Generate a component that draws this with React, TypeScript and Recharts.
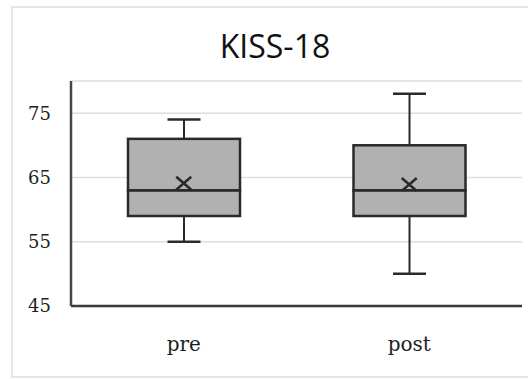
import React from "react";
import { ComposedChart, Bar, Line, XAxis, YAxis, CartesianGrid } from "recharts";

const categories = ["pre", "post"];
const minValues = [55, 50];
const q1Values = [59, 59];
const medianValues = [63, 63];
const q3Values = [71, 70];
const maxValues = [74, 78];
const meanValues = [64.1, 63.9];
const yTicks = [45, 55, 65, 75];

const data = categories.map((name, i) => ({
  name,
  base: minValues[i],
  lowWhisker: q1Values[i] - minValues[i],
  lowBox: medianValues[i] - q1Values[i],
  highBox: q3Values[i] - medianValues[i],
  highWhisker: maxValues[i] - q3Values[i],
  mean: meanValues[i],
}));

const STROKE = "#2a2a2a";
const FILL = "#b1b1b1";
const CAP = 33;

const LowWhisker = (p: any) => {
  const cx = p.x + p.width / 2;
  const yb = p.y + p.height;
  return (
    <g>
      <line x1={cx} x2={cx} y1={p.y} y2={yb} stroke={STROKE} strokeWidth={2} />
      <line x1={cx - CAP / 2} x2={cx + CAP / 2} y1={yb} y2={yb} stroke={STROKE} strokeWidth={2.5} />
    </g>
  );
};

const HighWhisker = (p: any) => {
  const cx = p.x + p.width / 2;
  return (
    <g>
      <line x1={cx} x2={cx} y1={p.y} y2={p.y + p.height} stroke={STROKE} strokeWidth={2} />
      <line x1={cx - CAP / 2} x2={cx + CAP / 2} y1={p.y} y2={p.y} stroke={STROKE} strokeWidth={2.5} />
    </g>
  );
};

const BoxPart = (p: any) => (
  <rect x={p.x} y={p.y} width={p.width} height={p.height} fill={FILL} stroke={STROKE} strokeWidth={2.5} />
);

const Empty = () => null;

const MeanMark = (p: any) => {
  const { cx, cy } = p;
  if (cx == null || cy == null) return null;
  const w = 7.5;
  const h = 6.5;
  return (
    <g key={`m-${cx}`}>
      <line x1={cx - w} y1={cy - h} x2={cx + w} y2={cy + h} stroke={STROKE} strokeWidth={2.5} />
      <line x1={cx - w} y1={cy + h} x2={cx + w} y2={cy - h} stroke={STROKE} strokeWidth={2.5} />
    </g>
  );
};

export default function App() {
  return (
    <div
      style={{
        position: "absolute",
        left: 0,
        top: 0,
        width: 528,
        height: 379,
        background: "#fff",
        overflow: "hidden",
      }}
    >
      <div
        style={{
          position: "absolute",
          left: 11,
          top: 6,
          width: 540,
          height: 372,
          border: "2px solid #e6e6e6",
          boxSizing: "border-box",
        }}
      />
      <svg style={{ position: "absolute", left: 0, top: 0 }} width={528} height={379}>
        <text x={275} y={58} textAnchor="middle" fontFamily="'Open Sans'" fontSize={32} fill="#111">
          KISS-18
        </text>
      </svg>
      <div style={{ position: "absolute", left: 0, top: 0 }}>
        <ComposedChart width={528} height={379} data={data} margin={{ top: 81, right: 6, bottom: 23, left: 20 }}>
          <CartesianGrid horizontal vertical={false} stroke="#dedede" strokeWidth={1.5} />
          <XAxis
            dataKey="name"
            height={50}
            tickLine={false}
            tickSize={0}
            tickMargin={31}
            axisLine={{ stroke: "#3a3a3a", strokeWidth: 2.5 }}
            tick={{ fontFamily: "'DejaVu Serif'", fontSize: 20, fill: "#1e1e1e" }}
          />
          <YAxis
            width={51}
            domain={[45, 80]}
            ticks={yTicks}
            allowDataOverflow
            tickLine={false}
            tickSize={0}
            tickMargin={20}
            axisLine={{ stroke: "#4a4444", strokeWidth: 2.5 }}
            tick={{ fontFamily: "'DejaVu Serif'", fontSize: 18, fill: "#1e1e1e" }}
          />
          <Bar dataKey="base" stackId="a" barSize={112} shape={Empty} isAnimationActive={false} />
          <Bar dataKey="lowWhisker" stackId="a" barSize={112} shape={LowWhisker} isAnimationActive={false} />
          <Bar dataKey="lowBox" stackId="a" barSize={112} shape={BoxPart} isAnimationActive={false} />
          <Bar dataKey="highBox" stackId="a" barSize={112} shape={BoxPart} isAnimationActive={false} />
          <Bar dataKey="highWhisker" stackId="a" barSize={112} shape={HighWhisker} isAnimationActive={false} />
          <Line
            dataKey="mean"
            stroke="none"
            dot={MeanMark}
            activeDot={false}
            isAnimationActive={false}
          />
        </ComposedChart>
      </div>
    </div>
  );
}
